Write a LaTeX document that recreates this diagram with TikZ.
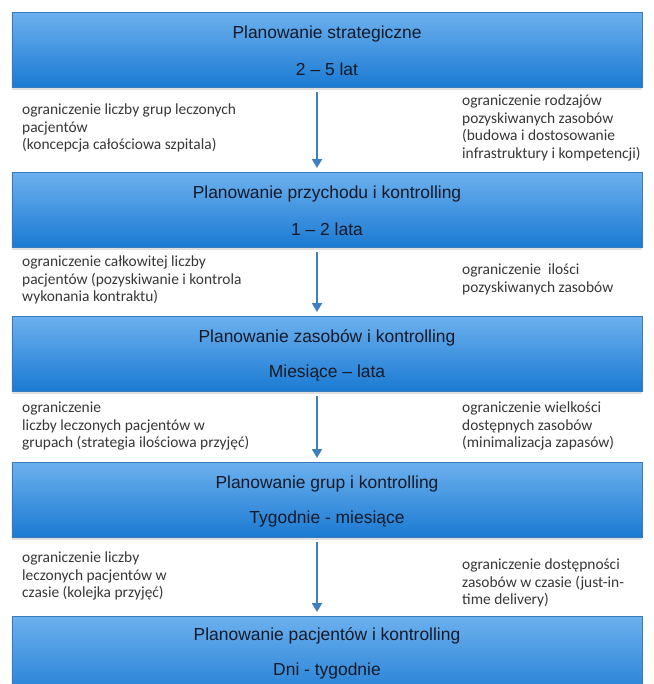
\documentclass[tikz,border=0pt]{standalone}
\usepackage{fontspec}
\setmainfont{Liberation Sans}
\newfontfamily\smallfont{Carlito}
\usetikzlibrary{arrows.meta,shadows}
\definecolor{boxtop}{RGB}{108,176,238}
\definecolor{boxbot}{RGB}{26,122,210}
\definecolor{boxline}{RGB}{58,122,190}
\definecolor{arrowcol}{RGB}{62,128,190}
\definecolor{titlecol}{RGB}{22,26,40}
\definecolor{notecol}{RGB}{55,55,55}
\tikzset{
  levelbox/.style={rectangle, draw=boxline, line width=0.8bp, top color=boxtop, bottom color=boxbot,
    minimum width=630bp, minimum height=75bp, inner sep=0pt, anchor=north,
    drop shadow={opacity=0.25, shadow xshift=0bp, shadow yshift=-2.5bp}},
  titletext/.style={font=\fontsize{17.5}{21}\selectfont, text=titlecol, inner sep=0pt},
  note/.style={font=\smallfont\fontsize{15.5}{17.5}\selectfont, text=notecol, align=left, inner sep=0pt, anchor=north west},
  flow/.style={draw=arrowcol, line width=2bp, -{Triangle[width=10bp,length=9bp]}, shorten <=4bp, shorten >=4bp}
}
\begin{document}
\begin{tikzpicture}[x=1bp,y=-1bp]
\useasboundingbox (0,0) rectangle (654,684);
\clip (0,0) rectangle (654,684);
\fill[white] (0,0) rectangle (654,684);
% boxes
\node[levelbox] (b1) at (327,12) {};
\node[levelbox] (b2) at (327,172) {};
\node[levelbox] (b3) at (327,316) {};
\node[levelbox] (b4) at (327,462) {};
\node[levelbox, minimum height=90bp] (b5) at (327,616) {};
% titles
\node[titletext] (t1a) at ([yshift=-22bp]b1.north) {Planowanie strategiczne};
\node[titletext] (t1b) at ([yshift=-57bp]b1.north) {2 – 5 lat};
\node[titletext] (t2a) at ([yshift=-22bp]b2.north) {Planowanie przychodu i kontrolling};
\node[titletext] (t2b) at ([yshift=-57bp]b2.north) {1 – 2 lata};
\node[titletext] (t3a) at ([yshift=-22bp]b3.north) {Planowanie zasobów i kontrolling};
\node[titletext] (t3b) at ([yshift=-57bp]b3.north) {Miesiące – lata};
\node[titletext] (t4a) at ([yshift=-22bp]b4.north) {Planowanie grup i kontrolling};
\node[titletext] (t4b) at ([yshift=-57bp]b4.north) {Tygodnie - miesiące};
\node[titletext] (t5a) at ([yshift=-20bp]b5.north) {Planowanie pacjentów i kontrolling};
\node[titletext] (t5b) at ([yshift=-55bp]b5.north) {Dni - tygodnie};
% arrows
\draw[flow] ([xshift=-10bp]b1.south) -- ([xshift=-10bp]b2.north);
\draw[flow] ([xshift=-10bp]b2.south) -- ([xshift=-10bp]b3.north);
\draw[flow] ([xshift=-10bp]b3.south) -- ([xshift=-10bp]b4.north);
\draw[flow] ([xshift=-10bp]b4.south) -- ([xshift=-10bp]b5.north);
% notes
\node[note] (l1) at (22,104) {ograniczenie liczby grup leczonych\\pacjentów\\(koncepcja całościowa szpitala)};
\node[note] (r1) at (462,95) {ograniczenie rodzajów\\pozyskiwanych zasobów\\(budowa i dostosowanie\\infrastruktury i kompetencji)};
\node[note] (l2) at (22,256) {ograniczenie całkowitej liczby\\pacjentów (pozyskiwanie i kontrola\\wykonania kontraktu)};
\node[note] (r2) at (462,264) {ograniczenie\ \ ilości\\pozyskiwanych zasobów};
\node[note] (l3) at (22,402) {ograniczenie\\liczby leczonych pacjentów w\\grupach (strategia ilościowa przyjęć)};
\node[note] (r3) at (462,402) {ograniczenie wielkości\\dostępnych zasobów\\(minimalizacja zapasów)};
\node[note] (l4) at (22,552) {ograniczenie liczby\\leczonych pacjentów w\\czasie (kolejka przyjęć)};
\node[note] (r4) at (462,559) {ograniczenie dostępności\\zasobów w czasie (just-in-\\time delivery)};
\end{tikzpicture}
\end{document}
